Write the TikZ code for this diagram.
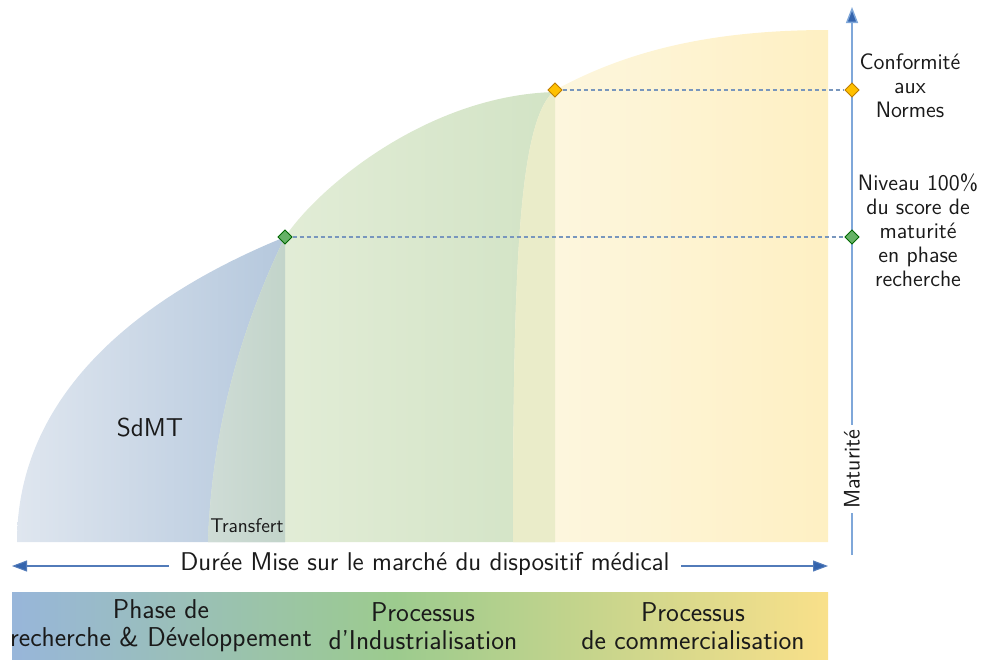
\documentclass[tikz,border=0pt]{standalone}
\usetikzlibrary{arrows.meta,shapes.geometric}

\definecolor{bleuG}{HTML}{DFE6EF}
\definecolor{bleuD}{HTML}{B5C8DD}
\definecolor{vertG}{HTML}{E6EFDB}
\definecolor{vertD}{HTML}{D2E3C5}
\definecolor{transG}{HTML}{CFDCD6}
\definecolor{transD}{HTML}{C2D4CA}
\definecolor{jauneG}{HTML}{FDF7E2}
\definecolor{jauneD}{HTML}{FEF0C3}
\definecolor{recouvre}{HTML}{EAECC9}
\definecolor{barBleu}{HTML}{98B6DA}
\definecolor{barVert}{HTML}{9CCB8E}
\definecolor{barJaune}{HTML}{F9E08A}
\definecolor{axeFonce}{HTML}{3464AD}
\definecolor{axeClair}{HTML}{7FA7D9}
\definecolor{tirets}{HTML}{7896BD}
\definecolor{texte}{HTML}{1A1A1A}

\tikzset{
  jalon/.style={diamond,draw,inner sep=0pt,minimum size=2.9mm,line width=0.5pt},
  jalonVert/.style={jalon,fill=green!50!black!60!white,draw=green!40!black},
  jalonOr/.style={jalon,fill={rgb,255:red,255;green,192;blue,0},draw={rgb,255:red,190;green,125;blue,0}},
  pointille/.style={tirets,line width=0.7pt,dash pattern=on 0.8mm off 0.6mm},
  etiquette/.style={font=\sffamily\fontsize{12.7}{13.7}\selectfont,text=texte,align=center},
  barre/.style={font=\sffamily\fontsize{15.5}{16}\selectfont,text=texte,align=center},
}

\begin{document}
\begin{tikzpicture}[x=0.2mm,y=-0.2mm]
        \useasboundingbox (0,0) rectangle (989,659);

        % recherche
        \shade[left color=bleuG,right color=bleuD] (17,542) .. controls (17,400) and (130,300) .. (285,237) -- (285,542) -- cycle;
        % industrialisation
        \shade[left color=vertG,right color=vertD] (208,542) .. controls (212,430) and (240,330) .. (285,237) .. controls (320,185) and (430,95) .. (555,92) -- (555,542) -- cycle;
        \shade[left color=transG,right color=transD] (208,542) .. controls (212,430) and (240,330) .. (285,237) -- (285,542) -- cycle;
        % commercialisation
        \shade[left color=jauneG,right color=jauneD] (513,542) .. controls (513,250) and (520,120) .. (555,90) .. controls (620,55) and (700,30) .. (828,30) -- (828,542) -- cycle;
        \fill[recouvre] (513,542) .. controls (513,250) and (520,120) .. (555,90) -- (555,542) -- cycle;

        \node[font=\sffamily\fontsize{14.7}{16}\selectfont,text=texte] (sdmt) at (150,428) {SdMT};
        \node[font=\sffamily\fontsize{11.3}{12}\selectfont,text=texte,anchor=south] (transfert) at (247,539) {Transfert};

        % axe maturite
        \coordinate (matBas) at (852,555);
        \coordinate (matHaut) at (852,7);
        \draw[axeClair,line width=0.8pt,-{Triangle[length=3.2mm,width=2.4mm,fill=axeFonce]}] (matBas) -- (matHaut);
        \node[fill=white,rotate=90,inner sep=0.8mm,font=\sffamily\fontsize{12.8}{14}\selectfont,text=texte] (maturite) at (852,469) {Maturité};

        % jalons
        \node[jalonVert] (jalonR) at (285,237) {};
        \node[jalonVert] (axeR) at (852,237) {};
        \node[jalonOr] (jalonC) at (555,90) {};
        \node[jalonOr] (axeC) at (852,90) {};
        \draw[pointille] (jalonR) -- (axeR);
        \draw[pointille] (jalonC) -- (axeC);

        \node[etiquette] (normes) at (910,86) {Conformité\\aux\\Normes};
        \node[etiquette] (niveau) at (918,230) {Niveau 100\%\\du score de\\maturité\\en phase\\recherche};

        % duree
        \coordinate (dureeG) at (12,566);
        \coordinate (dureeD) at (828,566);
        \draw[axeFonce!85!white,line width=0.6pt,{Triangle[length=3mm,width=2.2mm,fill=axeFonce]}-{Triangle[length=3mm,width=2.2mm,fill=axeFonce]}] (dureeG) -- (dureeD);
        \node[fill=white,inner xsep=2.2mm,font=\sffamily\fontsize{14.6}{16}\selectfont,text=texte] (duree) at (425,564) {Durée Mise sur le marché du dispositif médical};

        % bandeau des phases
        \shade[left color=barBleu,right color=barVert] (12,592) rectangle (395,659);
        \shade[left color=barVert,right color=barJaune] (395,592) rectangle (828,659);
        \node[barre] (phaseRD) at (161,626) {Phase de\\recherche \& Développement};
        \node[barre] (phaseInd) at (423,626) {Processus\\d’Industrialisation};
        \node[barre] (phaseCom) at (693,626) {Processus\\de commercialisation};

\end{tikzpicture}
\end{document}
